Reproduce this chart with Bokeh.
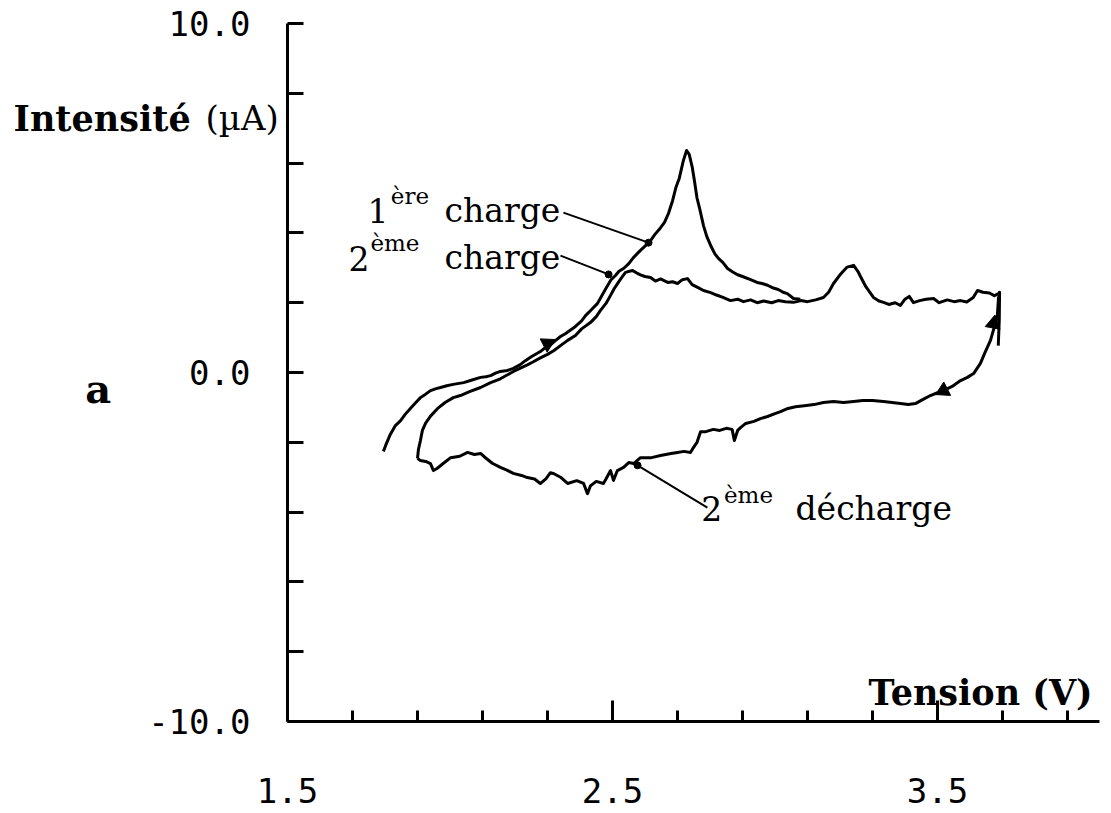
from bokeh.plotting import figure
from bokeh.models import Range1d, FixedTicker, Label
from bokeh.embed import file_html
from bokeh.resources import INLINE

# ---------------- data ----------------
charge1_v = [1.795, 1.802, 1.815, 1.832, 1.848, 1.862, 1.878, 1.895, 1.909, 1.925,
             1.940, 1.955, 1.971, 1.990, 2.010, 2.042, 2.063, 2.094, 2.110, 2.125,
             2.140, 2.155, 2.177, 2.195, 2.215, 2.232, 2.250, 2.278, 2.294, 2.310,
             2.325, 2.340, 2.356, 2.371, 2.386, 2.405, 2.417, 2.435, 2.454, 2.470,
             2.485, 2.495, 2.509, 2.520, 2.534, 2.550, 2.565, 2.586, 2.600, 2.617,
             2.630, 2.648, 2.660, 2.672, 2.685, 2.695, 2.705, 2.718, 2.728, 2.736,
             2.745, 2.752, 2.760, 2.768, 2.780, 2.790, 2.802, 2.815, 2.826, 2.840,
             2.854, 2.870, 2.885, 2.900, 2.925, 2.945, 2.960, 2.977, 2.995, 3.010,
             3.025, 3.038, 3.057, 3.078]
charge1_i = [-2.26, -2.09, -1.80, -1.52, -1.38, -1.20, -1.03, -0.86, -0.72, -0.62,
             -0.52, -0.47, -0.43, -0.38, -0.34, -0.29, -0.23, -0.14, -0.12, -0.09,
             -0.02, 0.03, 0.06, 0.12, 0.22, 0.34, 0.45, 0.60, 0.72, 0.80,
             0.92, 1.03, 1.12, 1.22, 1.32, 1.48, 1.63, 1.80, 1.98, 2.25,
             2.49, 2.65, 2.78, 2.90, 2.98, 3.12, 3.30, 3.50, 3.62, 3.78,
             3.95, 4.15, 4.30, 4.55, 4.93, 5.30, 5.55, 6.07, 6.36, 6.25,
             5.90, 5.50, 5.00, 4.70, 4.21, 3.90, 3.64, 3.40, 3.27, 3.15,
             2.98, 2.88, 2.80, 2.75, 2.66, 2.58, 2.55, 2.50, 2.42, 2.38,
             2.30, 2.26, 2.12, 2.10]

charge2_v = [1.900, 1.903, 1.909, 1.915, 1.925, 1.940, 1.962, 1.985, 2.010, 2.032,
             2.060, 2.094, 2.125, 2.155, 2.195, 2.215, 2.238, 2.255, 2.278, 2.300,
             2.320, 2.340, 2.362, 2.386, 2.405, 2.432, 2.450, 2.463, 2.480, 2.494,
             2.505, 2.518, 2.528, 2.540, 2.552, 2.562, 2.575, 2.586, 2.600, 2.617,
             2.632, 2.648, 2.657, 2.670, 2.685, 2.700, 2.715, 2.731, 2.745, 2.762,
             2.780, 2.802, 2.820, 2.840, 2.863, 2.885, 2.903, 2.925, 2.945, 2.965,
             2.990, 3.010, 3.032, 3.057, 3.080, 3.100, 3.125, 3.149, 3.165, 3.180,
             3.200, 3.222, 3.242, 3.255, 3.263, 3.280, 3.303, 3.320, 3.334, 3.350,
             3.370, 3.386, 3.400, 3.413, 3.426, 3.445, 3.465, 3.488, 3.505, 3.530,
             3.551, 3.571, 3.590, 3.610, 3.623, 3.640, 3.660, 3.675, 3.688, 3.691,
             3.690, 3.687]
charge2_i = [-2.46, -2.20, -1.95, -1.66, -1.45, -1.25, -1.03, -0.86, -0.72, -0.66,
             -0.55, -0.43, -0.29, -0.18, 0.03, 0.12, 0.22, 0.30, 0.42, 0.52,
             0.63, 0.77, 0.92, 1.06, 1.25, 1.43, 1.60, 1.78, 1.98, 2.21,
             2.40, 2.58, 2.72, 2.87, 2.90, 2.92, 2.85, 2.80, 2.75, 2.72,
             2.62, 2.68, 2.64, 2.58, 2.60, 2.55, 2.66, 2.69, 2.52, 2.44,
             2.35, 2.29, 2.22, 2.15, 2.06, 2.10, 2.03, 2.08, 2.00, 2.05,
             2.00, 2.06, 2.03, 2.01, 2.06, 2.03, 2.08, 2.15, 2.30, 2.55,
             2.80, 3.02, 3.07, 2.90, 2.75, 2.45, 2.15, 2.05, 2.01, 1.95,
             2.00, 1.92, 2.10, 2.18, 2.00, 2.06, 2.10, 2.12, 2.00, 2.08,
             2.03, 2.06, 2.02, 2.15, 2.35, 2.30, 2.28, 2.20, 2.26, 2.30,
             1.50, 0.77]

discharge2_v = [3.688, 3.684, 3.663, 3.645, 3.632, 3.611, 3.592, 3.571, 3.545, 3.518,
                3.500, 3.478, 3.450, 3.432, 3.410, 3.386, 3.360, 3.334, 3.300, 3.270,
                3.242, 3.211, 3.180, 3.149, 3.120, 3.090, 3.063, 3.040, 3.017, 3.000,
                2.977, 2.955, 2.935, 2.910, 2.894, 2.885, 2.875, 2.868, 2.850, 2.830,
                2.810, 2.785, 2.771, 2.760, 2.749, 2.740, 2.720, 2.700, 2.680, 2.648,
                2.620, 2.586, 2.565, 2.550, 2.534, 2.515, 2.503, 2.494, 2.480, 2.472,
                2.450, 2.432, 2.423, 2.411, 2.390, 2.362, 2.340, 2.320, 2.309, 2.295,
                2.278, 2.260, 2.238, 2.220, 2.195, 2.175, 2.155, 2.130, 2.110, 2.094,
                2.075, 2.054, 2.030, 2.002, 1.980, 1.960, 1.949, 1.940, 1.925, 1.909,
                1.900]
discharge2_i = [2.18, 1.60, 0.92, 0.55, 0.26, -0.03, -0.14, -0.23, -0.40, -0.52,
                -0.58, -0.66, -0.80, -0.89, -0.92, -0.89, -0.86, -0.83, -0.80, -0.80,
                -0.83, -0.86, -0.83, -0.86, -0.92, -0.95, -0.98, -1.03, -1.12, -1.18,
                -1.26, -1.32, -1.40, -1.46, -1.58, -1.66, -1.95, -1.63, -1.60, -1.66,
                -1.63, -1.70, -1.70, -2.00, -2.15, -2.29, -2.26, -2.29, -2.32, -2.38,
                -2.44, -2.44, -2.61, -2.58, -2.72, -2.81, -3.09, -2.81, -3.05, -3.18,
                -3.12, -3.25, -3.47, -3.18, -3.10, -3.18, -3.00, -2.90, -2.87, -3.05,
                -3.18, -3.05, -3.01, -2.95, -2.89, -2.80, -2.72, -2.60, -2.45, -2.32,
                -2.35, -2.29, -2.40, -2.44, -2.60, -2.75, -2.81, -2.61, -2.55, -2.52,
                -2.46]

# direction arrows on the curves
arrow_v = [2.300, 3.518, 3.672]
arrow_i = [0.83, -0.52, 1.40]
arrow_dir = [-1.09, 2.04, -0.18]

# leader lines of the annotations (from text to curve)
leader_v0 = [2.349, 2.340, 2.792]
leader_i0 = [4.58, 3.35, -3.87]
leader_v1 = [2.611, 2.488, 2.577]
leader_i1 = [3.72, 2.81, -2.66]

x_major = [1.5, 2.5, 3.5]
x_minor = [1.7, 1.9, 2.1, 2.3, 2.7, 2.9, 3.1, 3.3, 3.7, 3.9]
x_bounds = (1.5, 4.0)
y_ticks = [-10, -8, -6, -4, -2, 0, 2, 4, 6, 8, 10]
y_labels = {10: "10.0", 0: "0.0", -10: "-10.0"}
y_bounds = (-10, 10)

# ---------------- figure ----------------
# the frame covers the whole canvas; the axes sit at fixed data locations
p = figure(width=1110, height=812,
           x_range=Range1d(0.61692, 4.03231), y_range=Range1d(-12.6075, 10.6590),
           output_backend="svg", toolbar_location=None,
           min_border_left=0, min_border_right=0, min_border_top=0, min_border_bottom=0)
p.grid.visible = False
p.outline_line_color = None
p.background_fill_color = "white"
p.border_fill_color = "white"

serif = "DejaVu Serif"

yax = p.yaxis[0]
yax.fixed_location = 1.5
yax.bounds = y_bounds
yax.ticker = FixedTicker(ticks=y_ticks, minor_ticks=[])
yax.major_label_overrides = {t: y_labels.get(t, "") for t in y_ticks}
yax.axis_line_width = 3
yax.major_tick_line_width = 3
yax.major_tick_in = 16
yax.major_tick_out = 0
yax.minor_tick_line_color = None
yax.major_label_standoff = 37
yax.major_label_text_font = "DejaVu Sans Mono"
yax.major_label_text_font_size = "34px"
yax.major_label_text_color = "black"

xax = p.xaxis[0]
xax.fixed_location = -10
xax.bounds = x_bounds
xax.ticker = FixedTicker(ticks=x_major, minor_ticks=x_minor)
xax.axis_line_width = 3
xax.major_tick_line_width = 3
xax.minor_tick_line_width = 3
xax.major_tick_in = 21
xax.major_tick_out = 0
xax.minor_tick_in = 11
xax.minor_tick_out = 0
xax.major_label_standoff = 57
xax.major_label_text_font = "DejaVu Sans Mono"
xax.major_label_text_font_size = "34px"
xax.major_label_text_color = "black"

# curves
for vv, ii in [(charge1_v, charge1_i), (charge2_v, charge2_i), (discharge2_v, discharge2_i)]:
    p.line(vv, ii, line_color="black", line_width=3, line_join="round")

p.scatter(arrow_v, arrow_i, marker="triangle", angle=arrow_dir, size=15,
          fill_color="black", line_color="black")

p.segment(leader_v0, leader_i0, leader_v1, leader_i1, line_color="black", line_width=2)
p.scatter(leader_v1, leader_i1, marker="circle", size=7, fill_color="black", line_color="black")


def lab(x, y, t, size="33px", style="normal", align="left"):
    p.add_layout(Label(x=x, y=y, text=t, text_font=serif, text_font_size=size,
                       text_font_style=style, text_align=align, text_baseline="alphabetic",
                       text_color="black"))


lab(0.657, 7.28, "Intensité", size="35px", style="bold")
lab(1.248, 7.28, "(µA)", size="34px")
lab(3.288, -9.17, "Tension (V)", size="35px", style="bold")
lab(0.878, -0.46, "a", size="40px", style="bold")

lab(1.811, 4.64, "1", align="right")
lab(1.818, 5.07, "ère", size="23px")
lab(1.983, 4.64, "charge")

lab(1.752, 3.27, "2", align="right")
lab(1.755, 3.70, "ème", size="23px")
lab(1.983, 3.30, "charge")

lab(2.838, -3.90, "2", align="right")
lab(2.843, -3.52, "ème", size="23px")
lab(3.063, -3.90, "décharge")

open("out.html", "w").write(file_html(p, INLINE))
